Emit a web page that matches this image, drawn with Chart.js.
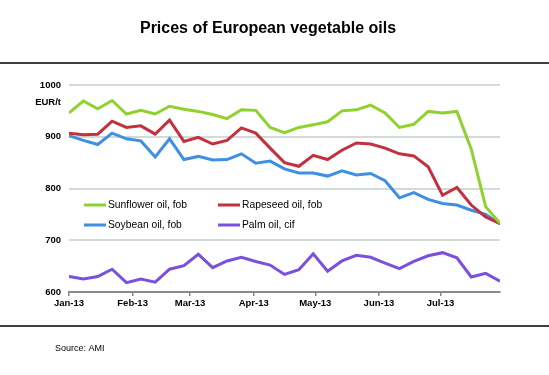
<!DOCTYPE html>
<html><head><meta charset="utf-8">
<script src="https://cdn.jsdelivr.net/npm/chart.js@4.4.1/dist/chart.umd.min.js"></script>
<style>html,body{margin:0;padding:0;background:#fff;}#wrap{width:549px;height:375px;position:relative;}</style>
</head><body><div id="wrap"><canvas id="c" width="549" height="375"></canvas></div>
<script>
// Week positions (days since 1 Jan 2013)
const weekDays = [0,7,14,21,28,35,42,49,56,63,70,77,84,91,98,105,112,119,126,133,140,147,154,161,168,175,182,189,196,203,210];
const monthTickDays = [0,31,59,90,120,151,181];
const monthTickLabels = ['Jan-13','Feb-13','Mar-13','Apr-13','May-13','Jun-13','Jul-13'];
const sunflower = [946,969,954,970,944,951,944,959,953,949,943,935,952,951,918,908,918,923,929,950,952,961,946,918,924,949,946,949,876,765,733];
const rapeseed  = [907,904,905,930,918,921,905,932,891,899,886,893,917,907,878,850,843,864,856,874,888,886,878,867,863,842,787,802,768,745,732];
const soybean   = [902,893,885,907,896,892,861,896,856,862,855,856,867,849,853,838,830,830,824,834,826,829,815,782,792,779,771,768,758,750,732];
const palm      = [630,625,630,644,618,625,619,644,651,673,647,660,667,659,652,634,643,674,640,660,671,667,656,645,659,670,676,666,629,636,621];
const seriesNames = ['Sunflower oil, fob','Rapeseed oil, fob','Soybean oil, fob','Palm oil, cif'];
const seriesColors = ['#8fd22e','#c2313f','#3f8fe2','#7a50dc'];
const yTicks = [600,700,800,900,1000];

const FONT = '"Liberation Sans", Arial, sans-serif';
const series = [sunflower, rapeseed, soybean, palm];
const datasets = series.map((vals, k) => ({
  label: seriesNames[k],
  data: vals.map((v, i) => ({x: weekDays[i], y: v})),
  borderColor: seriesColors[k],
  backgroundColor: seriesColors[k],
  borderWidth: 3,
  pointRadius: 0,
  tension: 0,
  fill: false
}));

const decor = {
  id: 'decor',
  afterDraw(chart) {
    const ctx = chart.ctx;
    ctx.save();
    // title
    ctx.fillStyle = '#000';
    ctx.font = 'bold 16px ' + FONT;
    ctx.textAlign = 'center';
    ctx.textBaseline = 'alphabetic';
    ctx.fillText('Prices of European vegetable oils', 268, 33);
    // rules
    ctx.fillStyle = '#3a3f48';
    ctx.fillRect(0, 62, 549, 2);
    ctx.fillRect(0, 325, 549, 2);
    // unit
    ctx.fillStyle = '#000';
    ctx.textBaseline = 'middle';
    ctx.font = 'bold 9.5px ' + FONT;
    ctx.textAlign = 'right';
    ctx.fillText('EUR/t', 61, 102);
    // source
    ctx.textAlign = 'left';
    ctx.font = '9px ' + FONT;
    ctx.fillText('Source: AMI', 55, 349);
    // legend
    const pos = [[84, 205], [218, 205], [84, 225], [218, 225]];
    ctx.font = '10.3px ' + FONT;
    chart.data.datasets.forEach((ds, k) => {
      const [x, y] = pos[k];
      ctx.strokeStyle = ds.borderColor;
      ctx.lineWidth = 3;
      ctx.beginPath();
      ctx.moveTo(x, y);
      ctx.lineTo(x + 22, y);
      ctx.stroke();
      ctx.fillStyle = '#000';
      ctx.fillText(ds.label, x + 24, y);
    });
    ctx.restore();
  }
};

new Chart(document.getElementById('c'), {
  type: 'line',
  data: { datasets },
  options: {
    responsive: false,
    animation: false,
    layout: { padding: { left: 0, right: 49, top: 85, bottom: 63 } },
    plugins: { legend: { display: false }, title: { display: false }, tooltip: { enabled: false } },
    scales: {
      x: {
        type: 'linear',
        min: 0, max: 210,
        afterBuildTicks: (scale) => { scale.ticks = monthTickDays.map(v => ({ value: v })); },
        afterFit: (scale) => { scale.height = 20; },
        ticks: {
          autoSkip: false, maxRotation: 0, padding: 2,
          color: '#000', font: { family: FONT, size: 9.5, weight: 'bold' },
          callback: (v, i) => monthTickLabels[i]
        },
        grid: { drawOnChartArea: false, drawTicks: true, tickLength: 4, color: '#888', lineWidth: 1.5 },
        border: { display: true, color: '#8a8a8a', width: 2 }
      },
      y: {
        min: 600, max: 1000,
        afterBuildTicks: (scale) => { scale.ticks = yTicks.map(v => ({ value: v })); },
        afterFit: (scale) => { scale.width = 69; },
        ticks: { padding: 8, color: '#000', font: { family: FONT, size: 9.5, weight: 'bold' },
          callback: (v) => String(v) },
        grid: { color: '#d3dbd9', lineWidth: 2, drawTicks: false },
        border: { display: false }
      }
    }
  },
  plugins: [decor]
});
</script></body></html>
